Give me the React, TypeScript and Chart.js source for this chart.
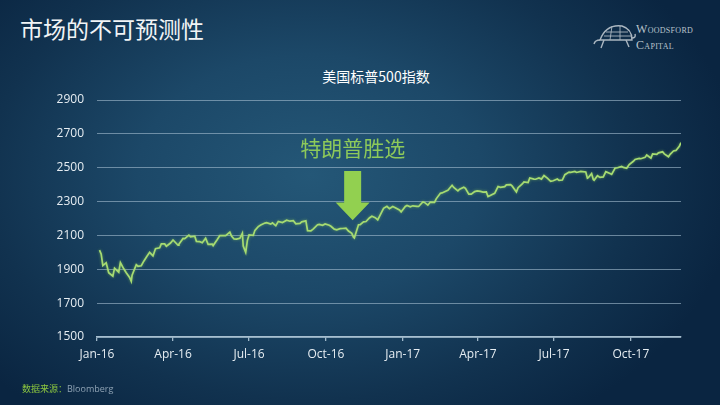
import React, { useEffect, useRef } from "react";
import { Chart, registerables } from "chart.js";

Chart.register(...registerables);

// ---- data ----
const dates: string[] = [
  "2016-01-04","2016-01-06","2016-01-08","2016-01-12","2016-01-15","2016-01-20","2016-01-22","2016-01-27","2016-01-29",
  "2016-02-02","2016-02-05","2016-02-09","2016-02-11","2016-02-12","2016-02-17","2016-02-19","2016-02-23","2016-02-26",
  "2016-03-01","2016-03-04","2016-03-08","2016-03-11","2016-03-16","2016-03-18","2016-03-22","2016-03-24","2016-03-29",
  "2016-04-01","2016-04-07","2016-04-08","2016-04-13","2016-04-15","2016-04-20","2016-04-22","2016-04-27","2016-04-29",
  "2016-05-03","2016-05-06","2016-05-10","2016-05-13","2016-05-18","2016-05-19","2016-05-24","2016-05-27",
  "2016-06-01","2016-06-03","2016-06-08","2016-06-10","2016-06-13","2016-06-16","2016-06-20","2016-06-23","2016-06-24","2016-06-27","2016-06-29",
  "2016-07-01","2016-07-06","2016-07-08","2016-07-12","2016-07-15","2016-07-20","2016-07-22","2016-07-27","2016-07-29",
  "2016-08-02","2016-08-05","2016-08-10","2016-08-15","2016-08-19","2016-08-23","2016-08-26","2016-08-31",
  "2016-09-02","2016-09-07","2016-09-09","2016-09-13","2016-09-16","2016-09-21","2016-09-23","2016-09-27","2016-09-30",
  "2016-10-05","2016-10-07","2016-10-11","2016-10-14","2016-10-18","2016-10-21","2016-10-25","2016-10-28",
  "2016-11-01","2016-11-03","2016-11-04","2016-11-07","2016-11-09","2016-11-11","2016-11-15","2016-11-18","2016-11-22","2016-11-25","2016-11-29",
  "2016-12-02","2016-12-07","2016-12-09","2016-12-13","2016-12-16","2016-12-20","2016-12-23","2016-12-28","2016-12-30",
  "2017-01-04","2017-01-06","2017-01-10","2017-01-13","2017-01-18","2017-01-20","2017-01-25","2017-01-27","2017-01-31",
  "2017-02-03","2017-02-08","2017-02-10","2017-02-15","2017-02-17","2017-02-22","2017-02-24",
  "2017-03-01","2017-03-03","2017-03-08","2017-03-10","2017-03-15","2017-03-17","2017-03-21","2017-03-24","2017-03-28","2017-03-31",
  "2017-04-04","2017-04-07","2017-04-11","2017-04-13","2017-04-18","2017-04-21","2017-04-25","2017-04-28",
  "2017-05-03","2017-05-05","2017-05-10","2017-05-12","2017-05-17","2017-05-19","2017-05-24","2017-05-26","2017-05-31",
  "2017-06-02","2017-06-07","2017-06-09","2017-06-13","2017-06-16","2017-06-19","2017-06-23","2017-06-27","2017-06-30",
  "2017-07-05","2017-07-07","2017-07-11","2017-07-14","2017-07-19","2017-07-21","2017-07-26","2017-07-28",
  "2017-08-02","2017-08-04","2017-08-08","2017-08-10","2017-08-11","2017-08-15","2017-08-17","2017-08-18","2017-08-22","2017-08-25","2017-08-29",
  "2017-09-01","2017-09-06","2017-09-08","2017-09-12","2017-09-15","2017-09-20","2017-09-22","2017-09-26","2017-09-29",
  "2017-10-04","2017-10-06","2017-10-11","2017-10-13","2017-10-18","2017-10-20","2017-10-25","2017-10-27",
  "2017-11-01","2017-11-03","2017-11-08","2017-11-10","2017-11-15","2017-11-17","2017-11-21","2017-11-24","2017-11-28","2017-11-30"
];

const spx: number[] = [
  2013,1990,1922,1939,1880,1859,1907,1883,1940,
  1903,1880,1852,1829,1865,1927,1918,1921,1948,
  1978,2000,1979,2022,2027,2050,2050,2036,2055,
  2073,2042,2048,2082,2081,2102,2092,2095,2065,
  2063,2057,2084,2047,2048,2040,2076,2099,
  2099,2099,2119,2096,2079,2078,2083,2113,2037,2000,2071,
  2103,2100,2130,2152,2162,2173,2175,2167,2174,
  2157,2183,2176,2190,2184,2187,2169,2171,
  2180,2186,2128,2127,2139,2163,2165,2160,2168,
  2160,2154,2137,2133,2140,2141,2143,2126,
  2112,2089,2085,2132,2163,2164,2180,2182,2203,2213,2205,
  2192,2241,2260,2272,2258,2271,2264,2250,2239,
  2271,2277,2269,2275,2272,2271,2298,2295,2279,
  2297,2295,2316,2349,2351,2363,2367,
  2396,2383,2363,2373,2385,2378,2344,2344,2359,2363,
  2360,2356,2357,2329,2342,2349,2389,2384,
  2388,2399,2400,2391,2357,2382,2404,2416,2412,
  2439,2433,2432,2440,2433,2454,2438,2419,2423,
  2433,2425,2427,2459,2474,2473,2478,2472,
  2478,2477,2475,2438,2441,2465,2430,2426,2453,2443,2446,
  2477,2466,2461,2497,2500,2508,2502,2497,2519,
  2538,2549,2555,2553,2561,2575,2557,2581,
  2579,2588,2594,2582,2565,2579,2599,2602,2627,2648
];

const tickDates: string[] = ["2016-01-01","2016-04-01","2016-07-01","2016-10-01","2017-01-01","2017-04-01","2017-07-01","2017-10-01"];
const tickLabels: string[] = ["Jan-16","Apr-16","Jul-16","Oct-16","Jan-17","Apr-17","Jul-17","Oct-17"];
const yTicks: number[] = [1500, 1700, 1900, 2100, 2300, 2500, 2700, 2900];

const axisStart = "2016-01-01";
const axisEnd = "2017-11-30";

const annotationText = "特朗普胜选";
const annotationDate = "2016-11-02";
const annotationTextValue = 2615;
const arrowTopValue = 2480;
const arrowHeadValue = 2295;
const arrowTipValue = 2190;

function dayIndex(s: string): number {
  const [y, m, d] = s.split("-").map(Number);
  return (Date.UTC(y, m - 1, d) - Date.UTC(2016, 0, 1)) / 86400000;
}

const annotationPlugin = {
  id: "trumpArrow",
  afterDatasetsDraw(chart: any) {
    const { ctx, scales } = chart;
    const xs = scales.x;
    const ys = scales.y;
    const cx = xs.getPixelForValue(dayIndex(annotationDate));
    const top = ys.getPixelForValue(arrowTopValue);
    const head = ys.getPixelForValue(arrowHeadValue);
    const tip = ys.getPixelForValue(arrowTipValue);
    const shaftHalf = 8.5;
    const headHalf = 17;
    ctx.save();
    ctx.fillStyle = "#92d050";
    ctx.beginPath();
    ctx.moveTo(cx - shaftHalf, top);
    ctx.lineTo(cx + shaftHalf, top);
    ctx.lineTo(cx + shaftHalf, head);
    ctx.lineTo(cx + headHalf, head);
    ctx.lineTo(cx, tip);
    ctx.lineTo(cx - headHalf, head);
    ctx.lineTo(cx - shaftHalf, head);
    ctx.closePath();
    ctx.fill();
    ctx.fillStyle = "#8dc95a";
    ctx.font = '21px "Noto Sans CJK SC"';
    ctx.textAlign = "center";
    ctx.textBaseline = "middle";
    ctx.fillText(annotationText, cx, ys.getPixelForValue(annotationTextValue));
    ctx.restore();
  },
};

const glowPlugin = {
  id: "lineGlow",
  beforeDatasetDraw(chart: any) {
    const ctx = chart.ctx;
    ctx.save();
    ctx.shadowColor = "rgba(150,215,90,0.55)";
    ctx.shadowBlur = 3;
  },
  afterDatasetDraw(chart: any) {
    chart.ctx.restore();
  },
};

export default function App() {
  const ref = useRef<HTMLCanvasElement | null>(null);

  useEffect(() => {
    document.body.style.margin = "0";
    if (!ref.current) return;
    const points = dates.map((d, i) => ({ x: dayIndex(d), y: spx[i] }));
    const tickVals = tickDates.map(dayIndex);
    const chart = new Chart(ref.current, {
      type: "line",
      data: {
        datasets: [
          {
            label: "S&P 500",
            data: points,
            borderColor: "#a6db72",
            borderWidth: 1.7,
            pointRadius: 0,
            tension: 0,
            fill: false,
          },
        ],
      },
      options: {
        animation: false,
        responsive: false,
        maintainAspectRatio: false,
        layout: { padding: { top: 100, right: 39, left: 0, bottom: 0 } },
        plugins: {
          legend: { display: false },
          title: { display: false },
          tooltip: { enabled: false },
        },
        scales: {
          x: {
            type: "linear",
            min: dayIndex(axisStart),
            max: dayIndex(axisEnd),
            afterBuildTicks: (scale: any) => {
              scale.ticks = tickVals.map((v) => ({ value: v }));
            },
            afterFit: (scale: any) => {
              scale.height = 68;
            },
            grid: {
              drawOnChartArea: false,
              drawTicks: true,
              tickLength: 4,
              color: "rgba(175,198,214,0.9)",
              lineWidth: 1.3,
            },
            border: { display: true, color: "rgba(175,198,214,0.95)", width: 1.6 },
            ticks: {
              autoSkip: false,
              maxRotation: 0,
              padding: 6,
              color: "#e6edf2",
              font: { family: "'Open Sans', 'Noto Sans', sans-serif", size: 12 },
              callback: (_v: any, i: number) => tickLabels[i],
            },
          },
          y: {
            min: yTicks[0],
            max: yTicks[yTicks.length - 1],
            afterBuildTicks: (scale: any) => {
              scale.ticks = yTicks.map((v) => ({ value: v }));
            },
            afterFit: (scale: any) => {
              scale.width = 97;
            },
            grid: {
              drawTicks: false,
              color: "rgba(165,190,208,0.6)",
              lineWidth: 1,
            },
            border: { display: false },
            ticks: {
              padding: 13,
              color: "#e6edf2",
              font: { family: "'Open Sans', 'Noto Sans', sans-serif", size: 12 },
              callback: (v: any) => String(v),
            },
          },
        },
      },
      plugins: [glowPlugin, annotationPlugin],
    });
    return () => chart.destroy();
  }, []);

  return (
    <div
      style={{
        position: "relative",
        width: 720,
        height: 405,
        overflow: "hidden",
        background:
          "radial-gradient(ellipse 430px 300px at 310px 175px, #245777 0%, #1c4868 40%, #11324f 75%, #0a2541 100%)",
        fontFamily: "'Noto Sans CJK SC', sans-serif",
      }}
    >
      <div
        style={{
          position: "absolute",
          left: 20,
          top: 13,
          fontSize: 23,
          lineHeight: "30px",
          color: "#f1f4f6",
          fontFamily: "'Noto Sans CJK SC', sans-serif",
        }}
      >
        市场的不可预测性
      </div>
      <div
        style={{
          position: "absolute",
          left: 592,
          top: 20,
          width: 120,
          height: 36,
        }}
      >
        <svg width="44" height="34" viewBox="0 0 44 34" style={{ position: "absolute", left: 0, top: 0 }}>
          <path d="M8 20 Q14 4 30 6 Q40 9 40 20 Z" fill="none" stroke="#aab6c0" strokeWidth="1.4" />
          <path d="M14 12 L36 12 M12 16 L39 16 M20 6 L18 20 M28 6 L28 20" stroke="#aab6c0" strokeWidth="0.9" />
          <path d="M8 20 Q3 20 2 24 M12 20 L9 28 M34 20 L37 27 M40 18 Q44 18 43 14" stroke="#aab6c0" strokeWidth="1.4" fill="none" />
        </svg>
        <div
          style={{
            position: "absolute",
            left: 44,
            top: 1,
            fontFamily: "'Liberation Serif', serif",
            fontVariant: "small-caps",
            fontSize: 12,
            lineHeight: "16px",
            color: "#b9c4cc",
            letterSpacing: 0.3,
          }}
        >
          <div>Woodsford</div>
          <div>Capital</div>
        </div>
      </div>
      <div
        style={{
          position: "absolute",
          left: 376,
          top: 66,
          transform: "translateX(-50%)",
          fontSize: 14,
          lineHeight: "20px",
          color: "#ffffff",
          whiteSpace: "nowrap",
        }}
      >
        美国标普500指数
      </div>
      <canvas ref={ref} width={720} height={405} style={{ position: "absolute", left: 0, top: 0 }} />
      <div
        style={{
          position: "absolute",
          left: 22,
          top: 382,
          fontSize: 9,
          lineHeight: "14px",
          whiteSpace: "nowrap",
        }}
      >
        <span style={{ color: "#8cc63f" }}>数据来源：</span>
        <span style={{ color: "#8fa3b4", fontFamily: "'Open Sans', sans-serif" }}>Bloomberg</span>
      </div>
    </div>
  );
}
